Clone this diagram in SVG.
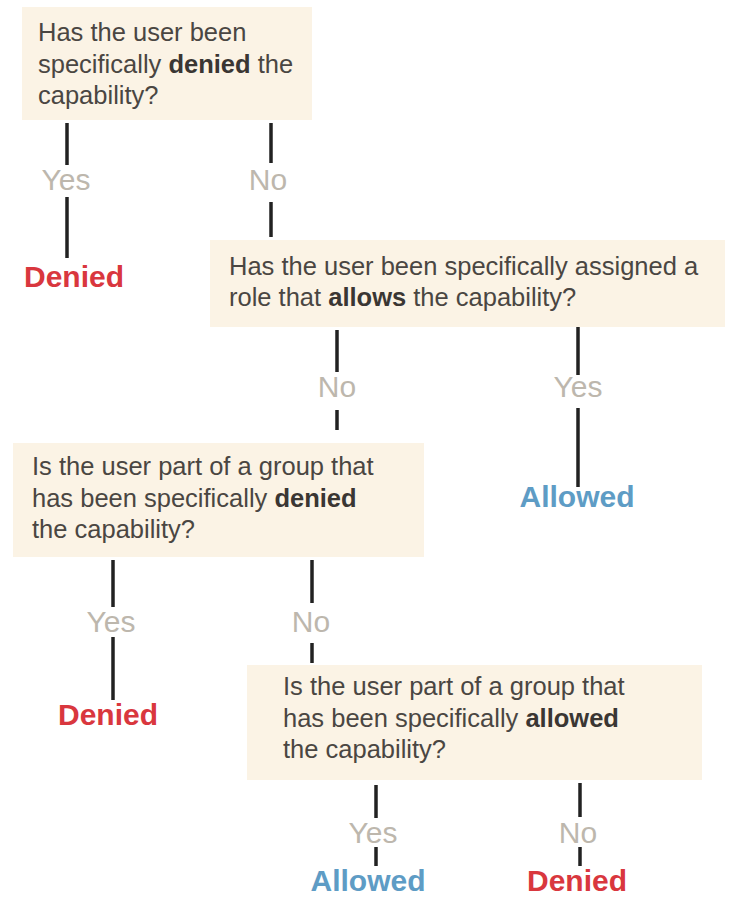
<svg xmlns="http://www.w3.org/2000/svg" width="731" height="898" viewBox="0 0 731 898">
<style>
.box{fill:#fbf3e5;}
.q{font-family:"Liberation Sans",Arial,sans-serif;font-size:25.5px;fill:#4a4642;}
.q tspan.b{font-weight:bold;fill:#3a3633;}
.lbl{font-family:"Liberation Sans",Arial,sans-serif;font-size:30px;fill:#bdb7ad;text-anchor:middle;}
.den{font-family:"Liberation Sans",Arial,sans-serif;font-size:30px;font-weight:bold;fill:#d9373e;}
.alw{font-family:"Liberation Sans",Arial,sans-serif;font-size:30px;font-weight:bold;fill:#5e9cc5;}
.c line{stroke:#222;stroke-width:3.5;}
</style>
<rect width="731" height="898" fill="#fff"/>
<g id="q1">
<rect class="box" x="22" y="7" width="290" height="113"/>
<text class="q" x="38"><tspan x="38" y="41">Has the user been</tspan><tspan x="38" y="73">specifically <tspan class="b">denied</tspan> the</tspan><tspan x="38" y="104">capability?</tspan></text>
</g>
<g id="q2">
<rect class="box" x="210" y="240" width="515" height="87"/>
<text class="q"><tspan x="229" y="275">Has the user been specifically assigned a</tspan><tspan x="229" y="306">role that <tspan class="b">allows</tspan> the capability?</tspan></text>
</g>
<g id="q3">
<rect class="box" x="13" y="443" width="411" height="114"/>
<text class="q"><tspan x="32" y="475">Is the user part of a group that</tspan><tspan x="32" y="507">has been specifically <tspan class="b">denied</tspan></tspan><tspan x="32" y="538">the capability?</tspan></text>
</g>
<g id="q4">
<rect class="box" x="247" y="665" width="455" height="115"/>
<text class="q"><tspan x="283" y="695">Is the user part of a group that</tspan><tspan x="283" y="727">has been specifically <tspan class="b">allowed</tspan></tspan><tspan x="283" y="758">the capability?</tspan></text>
</g>
<g id="r1"><text class="den" x="24" y="287">Denied</text></g>
<g id="r2"><text class="alw" x="577" y="507" text-anchor="middle">Allowed</text></g>
<g id="r3"><text class="den" x="108" y="725" text-anchor="middle">Denied</text></g>
<g id="r4"><text class="alw" x="368" y="891" text-anchor="middle">Allowed</text></g>
<g id="r5"><text class="den" x="577" y="891" text-anchor="middle">Denied</text></g>
<g id="connectors" class="c">
<line x1="67" y1="123" x2="67" y2="165"/><line x1="67" y1="197" x2="67" y2="258"/>
<line x1="271" y1="123" x2="271" y2="163"/><line x1="271" y1="202" x2="271" y2="237"/>
<line x1="337" y1="330" x2="337" y2="372"/><line x1="337" y1="410" x2="337" y2="430"/>
<line x1="578" y1="327" x2="578" y2="375"/><line x1="578" y1="408" x2="578" y2="487"/>
<line x1="113" y1="560" x2="113" y2="607"/><line x1="113" y1="637" x2="113" y2="700"/>
<line x1="312" y1="560" x2="312" y2="603"/><line x1="312" y1="643" x2="312" y2="663"/>
<line x1="376" y1="785" x2="376" y2="818"/><line x1="376" y1="847" x2="376" y2="866"/>
<line x1="580" y1="783" x2="580" y2="817"/><line x1="580" y1="847" x2="580" y2="866"/>
</g>
<g id="labels">
<text class="lbl" x="66" y="190">Yes</text>
<text class="lbl" x="268" y="190">No</text>
<text class="lbl" x="337" y="397">No</text>
<text class="lbl" x="578" y="397">Yes</text>
<text class="lbl" x="111" y="632">Yes</text>
<text class="lbl" x="311" y="632">No</text>
<text class="lbl" x="373" y="843">Yes</text>
<text class="lbl" x="578" y="843">No</text>
</g>
</svg>
